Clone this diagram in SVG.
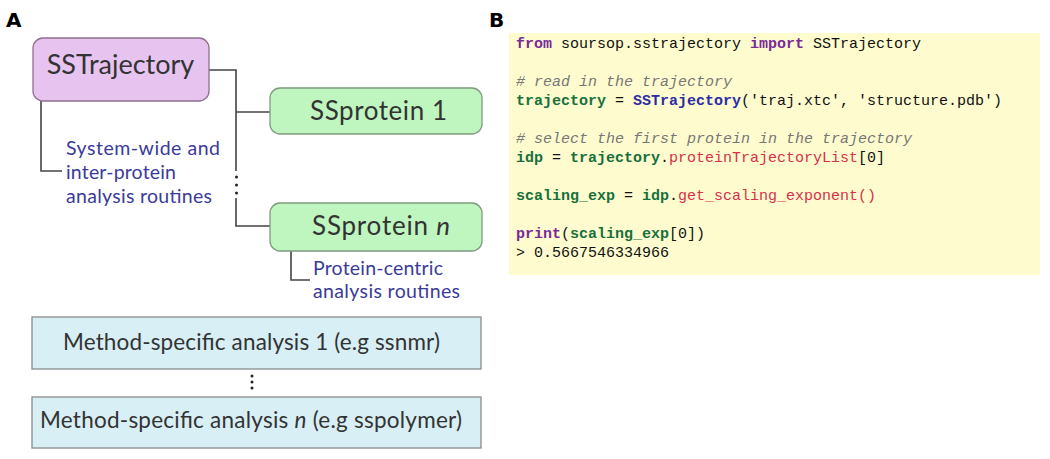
<svg xmlns="http://www.w3.org/2000/svg" width="1050" height="459" viewBox="0 0 1050 459">
<style>
.lbl{font-family:"DejaVu Sans","Liberation Sans",sans-serif;font-weight:bold;font-size:20px;fill:#000}
.nt{font-family:Lato,"Noto Sans",sans-serif;fill:#333}
.bt{font-family:Lato,"Noto Sans",sans-serif;fill:#3b3b9a;font-size:19.5px}
.con{fill:none;stroke:#444;stroke-width:1.6}
.dot{fill:#222}
.code{font-family:"Liberation Mono","Courier New",monospace;font-size:15px;fill:#111;white-space:pre}
.kw{fill:#7b2a98;font-weight:bold}
.gr{fill:#17703c;font-weight:bold}
.bl{fill:#2c2ca6;font-weight:bold}
.rd{fill:#d8304a}
.cm{fill:#777;font-style:italic}
</style>
<rect width="1050" height="459" fill="#fff"/>
<text class="lbl" x="6" y="27">A</text>
<text class="lbl" x="489" y="27">B</text>
<g id="connectors">
<path class="con" d="M209 70 H236 V171"/>
<path class="con" d="M236 112 H271"/>
<path class="con" d="M236 198 V226 H271"/>
<path class="con" d="M41 101 V171 H62"/>
<path class="con" d="M291 251 V280 H310"/>
<circle class="dot" cx="236.5" cy="177" r="1.5"/>
<circle class="dot" cx="236.5" cy="185" r="1.5"/>
<circle class="dot" cx="236.5" cy="193" r="1.5"/>
<circle class="dot" cx="252" cy="376" r="1.5"/>
<circle class="dot" cx="252" cy="382" r="1.5"/>
<circle class="dot" cx="252" cy="388" r="1.5"/>
</g>
<g id="sstrajectory">
<rect x="33" y="38" width="176" height="63" rx="10" fill="#e7c4ef" stroke="#8d6f8d" stroke-width="1.3"/>
<text class="nt" x="120.5" y="74" font-size="27" text-anchor="middle">SSTrajectory</text>
</g>
<g id="system-wide">
<text class="bt" x="66" y="155" textLength="154">System-wide and</text>
<text class="bt" x="66" y="179" textLength="110">inter-protein</text>
<text class="bt" x="66" y="203" textLength="146">analysis routines</text>
</g>
<g id="ssprotein1">
<rect x="270" y="88" width="212" height="46" rx="10" fill="#bff5bf" stroke="#7f9a7f" stroke-width="1.3"/>
<text class="nt" x="310" y="120" font-size="26" textLength="137">SSprotein 1</text>
</g>
<g id="ssproteinn">
<rect x="270" y="203" width="212" height="48" rx="10" fill="#bff5bf" stroke="#7f9a7f" stroke-width="1.3"/>
<text class="nt" x="312" y="235" font-size="26" textLength="138">SSprotein <tspan font-style="italic">n</tspan></text>
</g>
<g id="protein-centric">
<text class="bt" x="313" y="275" textLength="130">Protein-centric</text>
<text class="bt" x="313" y="298" textLength="147">analysis routines</text>
</g>
<g id="method1">
<rect x="32" y="317" width="449" height="52" fill="#d7eff5" stroke="#8a8a8a" stroke-width="1.3"/>
<text class="nt" x="63" y="350" font-size="22.5" textLength="377">Method-specific analysis 1 (e.g ssnmr)</text>
</g>
<g id="methodn">
<rect x="32" y="397" width="449" height="51" fill="#d7eff5" stroke="#8a8a8a" stroke-width="1.3"/>
<text class="nt" x="40" y="428" font-size="22.5" textLength="422">Method-specific analysis <tspan font-style="italic">n</tspan> (e.g sspolymer)</text>
</g>
<g id="code">
<rect x="509" y="33" width="531" height="242" fill="#fefccf"/>
<text class="code" x="516" y="48"><tspan class="kw">from</tspan> soursop.sstrajectory <tspan class="kw">import</tspan> SSTrajectory</text>
<text class="code" x="516" y="86"><tspan class="cm"># read in the trajectory</tspan></text>
<text class="code" x="516" y="105"><tspan class="gr">trajectory</tspan> = <tspan class="bl">SSTrajectory</tspan>('traj.xtc', 'structure.pdb')</text>
<text class="code" x="516" y="143"><tspan class="cm"># select the first protein in the trajectory</tspan></text>
<text class="code" x="516" y="162"><tspan class="gr">idp</tspan> = <tspan class="gr">trajectory</tspan>.<tspan class="rd">proteinTrajectoryList</tspan>[0]</text>
<text class="code" x="516" y="200"><tspan class="gr">scaling_exp</tspan> = <tspan class="gr">idp</tspan>.<tspan class="rd">get_scaling_exponent()</tspan></text>
<text class="code" x="516" y="238"><tspan class="kw">print</tspan>(<tspan class="gr">scaling_exp</tspan>[0])</text>
<text class="code" x="516" y="257">&gt; 0.5667546334966</text>
</g>
</svg>
